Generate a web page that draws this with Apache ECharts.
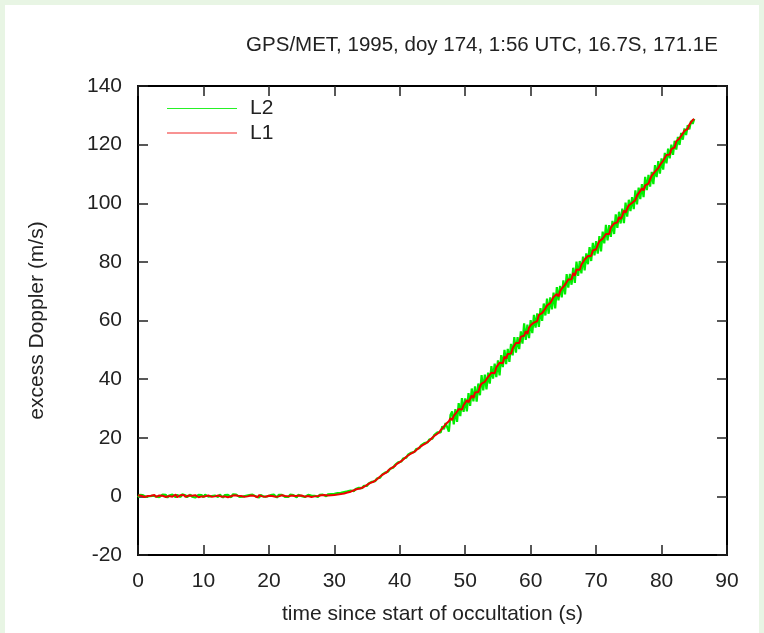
<!DOCTYPE html>
<html>
<head>
<meta charset="utf-8">
<script src="https://cdn.jsdelivr.net/npm/echarts@6/dist/echarts.min.js"></script>
<style>
html,body{margin:0;padding:0;background:#e8f5e4;}
#chart{width:764px;height:633px;}
</style>
</head>
<body>
<div id="chart"></div>
<script>
// sample spacing of the occultation record (s)
const STEP = 0.25;
const titleText = 'GPS/MET, 1995, doy 174, 1:56 UTC, 16.7S, 171.1E';
const xName = 'time since start of occultation (s)';
const yName = 'excess Doppler (m/s)';
const seriesNames = ['L2', 'L1'];
const seriesColors = ['#00ee00', '#ee0000'];

const L1 = [
0.3,-0.1,0.2,0.0, -0.2,0.4,0.1,-0.1, 0.2,0.0,0.5,-0.2, 0.1,0.3,-0.3,0.2, 0.0,-0.2,0.4,0.1,
0.3,-0.1,0.0,0.6, -0.3,0.2,0.4,0.0, 0.5,-0.2,0.1,0.3, -0.1,0.2,0.0,0.4, 0.1,-0.3,0.3,0.0,
0.2,0.0,-0.2,0.3, 0.4,-0.1,0.1,0.0, -0.2,0.3,0.5,-0.1, 0.1,0.0,0.2,-0.3, 0.3,0.1,-0.1,0.4,
0.0,0.2,-0.2,0.1, 0.5,-0.1,0.2,0.0, -0.2,0.3,0.0,0.2, 0.1,-0.3,0.4,0.1, 0.0,0.2,-0.1,0.3,
0.2,-0.2,0.1,0.0, -0.1,0.3,0.0,0.2, 0.4,-0.1,0.1,-0.2, 0.0,0.2,0.3,-0.1, 0.1,-0.2,0.2,0.0,
0.3,0.0,-0.1,0.2, 0.1,0.4,-0.2,0.1, 0.0,0.3,0.1,0.2, 0.4,0.1,0.5,0.3, 0.3,0.6,0.4,0.7,
0.5,0.8,0.6,1.0, 0.8,1.2,1.0,1.4, 1.3,1.7,1.6,1.9, 2.1,2.1,2.5,2.6, 2.7,3.2,3.2,3.7,
3.9,4.0,4.6,4.7, 5.0,5.6,5.8,6.3, 6.8,7.0,7.6,7.8, 8.2,8.9,9.0,9.7, 10.1,10.3,11.0,11.2,
11.7,12.3,12.5,13.1, 13.5,13.7,14.3,14.5, 14.9,15.5,15.7,16.3, 16.7,16.9,17.5,17.7, 18.1,18.7,19.0,19.5,
20.1,20.2,21.0,21.3, 21.8,22.6,23.0,23.8, 24.6,24.3,25.6,26.7, 26.0,27.5,26.9,28.9, 29.8,29.4,29.6,31.1,
31.0,32.8,32.1,33.3, 34.4,33.6,35.4,35.5, 35.6,37.5,38.5,37.9, 39.1,38.7,40.8,40.8, 42.2,41.9,42.0,44.0,
43.7,45.6,45.6,45.4, 47.7,47.0,48.6,48.6, 48.7,50.5,50.8,52.3, 52.7,52.3,54.5,54.0, 54.8,56.3,55.5,57.5,
58.4,58.3,59.3,58.9, 59.8,61.9,61.3,62.5, 61.9,64.1,65.1,64.5, 66.0,65.8,68.0,67.5, 69.0,68.2,70.0,70.9,
70.4,72.2,72.2,74.0, 74.1,74.1,76.2,75.3, 77.4,77.1,77.3,79.0, 79.0,80.8,80.7,82.0, 82.6,82.0,83.9,83.9,
84.3,85.8,87.1,86.5, 87.9,87.6,89.5,89.8, 89.5,91.7,91.6,93.1, 93.5,93.5,95.3,94.6, 95.7,97.5,96.8,98.2,
99.3,98.9,100.1,99.9, 101.1,102.6,102.0,104.2, 105.1,104.4,106.1,106.3, 106.7,108.2,109.4,109.1, 110.8,110.2,112.0,113.0,
112.6,114.5,114.6,116.5, 116.6,116.6,118.5,118.6, 119.1,121.1,120.8,122.2, 123.0,123.0,124.7,124.3, 125.4,126.8,126.9,128.4,
128.7
];

const L2 = [
-0.3,0.5,0.0,0.4, 0.6,-0.2,0.3,0.1, -0.4,0.2,0.7,0.0, 0.4,-0.3,0.1,0.6, 0.2,0.5,-0.4,0.3,
-0.1,0.6,0.2,-0.3, 0.5,0.0,-0.2,0.7, 0.1,0.4,-0.3,0.2, 0.6,-0.1,0.3,-0.4, 0.0,0.5,0.1,0.4,
-0.3,0.6,0.2,-0.1, 0.5,0.1,-0.4,0.3, 0.2,-0.2,0.6,0.0, -0.4,0.4,0.1,0.5, 0.3,-0.3,0.7,0.1,
0.6,0.0,-0.2,0.4, -0.1,0.5,0.2,-0.3, 0.4,-0.2,0.6,0.1, 0.0,0.3,-0.4,0.5, 0.6,-0.1,0.2,0.0,
-0.3,0.4,0.1,0.6, 0.2,-0.4,0.5,0.0, 0.5,0.1,-0.2,0.3, -0.2,0.6,0.0,0.4, 0.3,-0.3,0.5,-0.1,
0.1,0.6,-0.2,0.2, 0.5,-0.1,0.3,-0.3, 0.2,0.4,-0.2,0.5, 0.1,0.6,0.2,0.0, 0.7,0.2,0.8,0.4,
0.9,0.4,1.1,0.6, 1.2,0.8,1.5,1.0, 1.7,1.2,2.0,1.6, 1.8,2.5,2.2,2.9, 3.1,2.8,3.6,3.3,
3.6,4.4,4.2,5.0, 5.4,5.2,6.1,5.9, 6.4,7.3,7.2,8.1, 8.6,8.5,9.4,9.3, 9.8,10.7,10.6,11.6,
12.1,11.9,12.9,12.7, 13.2,14.2,13.9,14.9, 15.3,15.2,16.1,15.9, 16.4,17.4,17.1,18.2, 18.5,18.4,19.4,19.3,
19.7,20.9,20.6,21.8, 22.4,21.8,23.9,22.9, 25.0,23.6,22.1,27.8, 29.0,24.6,29.8,25.4, 31.8,27.4,33.5,28.8,
33.4,29.0,35.2,30.9, 36.8,32.4,37.5,32.3, 38.5,34.5,41.4,36.2, 41.5,36.5,42.2,38.5, 44.4,40.2,45.3,40.7,
46.4,41.3,48.2,44.1, 50.0,45.1,50.3,45.9, 52.0,48.1,54.3,49.0, 54.3,50.2,56.3,52.1, 59.0,53.4,58.6,54.0,
60.1,55.7,61.9,57.6, 62.4,57.8,64.2,59.9, 65.8,61.7,67.5,62.3, 67.9,63.8,69.5,64.1, 71.4,66.9,71.8,67.9,
73.7,68.9,75.8,71.2, 75.9,72.2,78.0,72.8, 80.1,75.2,80.3,76.1, 81.8,77.1,82.9,79.2, 85.0,80.3,86.5,82.2,
87.1,82.8,88.8,83.6, 90.3,86.3,92.6,87.3, 92.5,88.5,94.0,89.5, 96.2,91.6,97.1,93.1, 98.2,93.2,100.2,95.4,
101.2,97.3,102.1,98.0, 104.4,99.6,105.3,101.4, 106.5,102.1,109.0,104.5, 109.7,105.7,110.7,106.5, 113.0,108.9,114.4,110.1,
115.3,111.5,117.2,113.6, 118.6,115.3,120.0,116.5, 121.3,118.3,122.6,119.9, 124.0,121.7,125.5,123.3, 126.6,125.2,128.1,127.1,
128.8
];

function pairs(arr){ return arr.map((v,i)=>[i*STEP, v]); }

const FONT = 'Liberation Sans, Arial, Helvetica, sans-serif';
const FS = 21;

const chart = echarts.init(document.getElementById('chart'), null, {renderer:'canvas'});

const tickStyle = {show:true, inside:true, length:10, lineStyle:{color:'#222', width:1.5}};
const lineStyle = {show:true, onZero:false, lineStyle:{color:'#000', width:2}};

// key (legend) drawn as short sample lines with labels
const keyItems = [];
seriesNames.forEach((n,i)=>{
  const y = 108.5 + i*24.5;
  keyItems.push({type:'line', z:10, silent:true, shape:{x1:167, y1:y, x2:237, y2:y},
                 style:{stroke:seriesColors[i], lineWidth:1, opacity:0.85}});
  keyItems.push({type:'text', z:10, silent:true, x:250, y:y,
                 style:{text:n, fontFamily:FONT, fontSize:FS, fill:'#222', textAlign:'left', textVerticalAlign:'middle'}});
});

chart.setOption({
  backgroundColor:'#e8f5e4',
  animation:false,
  textStyle:{fontFamily:FONT},
  graphic:[
    {type:'rect', z:-10, silent:true, shape:{x:5, y:5, width:754, height:640}, style:{fill:'#ffffff'}},
    {type:'text', z:10, x:482, y:45, style:{text:titleText, fontFamily:FONT, fontSize:20.5, fill:'#222', textAlign:'center', textVerticalAlign:'middle'}}
  ].concat(keyItems),
  grid:{left:138, right:37, top:86, bottom:78, containLabel:false},
  legend:{show:false, data:seriesNames},
  xAxis:[
    {type:'value', min:0, max:90, interval:10, position:'bottom',
     name:xName, nameLocation:'middle', nameGap:49,
     nameTextStyle:{fontFamily:FONT, fontSize:FS, color:'#222'},
     axisLine:lineStyle, axisTick:tickStyle, splitLine:{show:false},
     axisLabel:{fontFamily:FONT, fontSize:FS, color:'#222', margin:16}},
    {type:'value', min:0, max:90, interval:10, position:'top',
     axisLine:lineStyle, axisTick:tickStyle, splitLine:{show:false}, axisLabel:{show:false}}
  ],
  yAxis:[
    {type:'value', min:-20, max:140, interval:20, position:'left',
     name:yName, nameLocation:'middle', nameGap:90, nameRotate:90,
     nameTextStyle:{fontFamily:FONT, fontSize:FS, color:'#222'},
     axisLine:lineStyle, axisTick:tickStyle, splitLine:{show:false},
     axisLabel:{fontFamily:FONT, fontSize:FS, color:'#222', margin:16}},
    {type:'value', min:-20, max:140, interval:20, position:'right',
     axisLine:lineStyle, axisTick:tickStyle, splitLine:{show:false}, axisLabel:{show:false}}
  ],
  series:[
    {name:'L2', type:'line', data:pairs(L2), symbol:'none', showSymbol:false,
     lineStyle:{color:seriesColors[0], width:2.2}, itemStyle:{color:seriesColors[0]}, z:2},
    {name:'L1', type:'line', data:pairs(L1), symbol:'none', showSymbol:false,
     lineStyle:{color:seriesColors[1], width:2}, itemStyle:{color:seriesColors[1]}, z:3}
  ]
});
</script>
</body>
</html>
